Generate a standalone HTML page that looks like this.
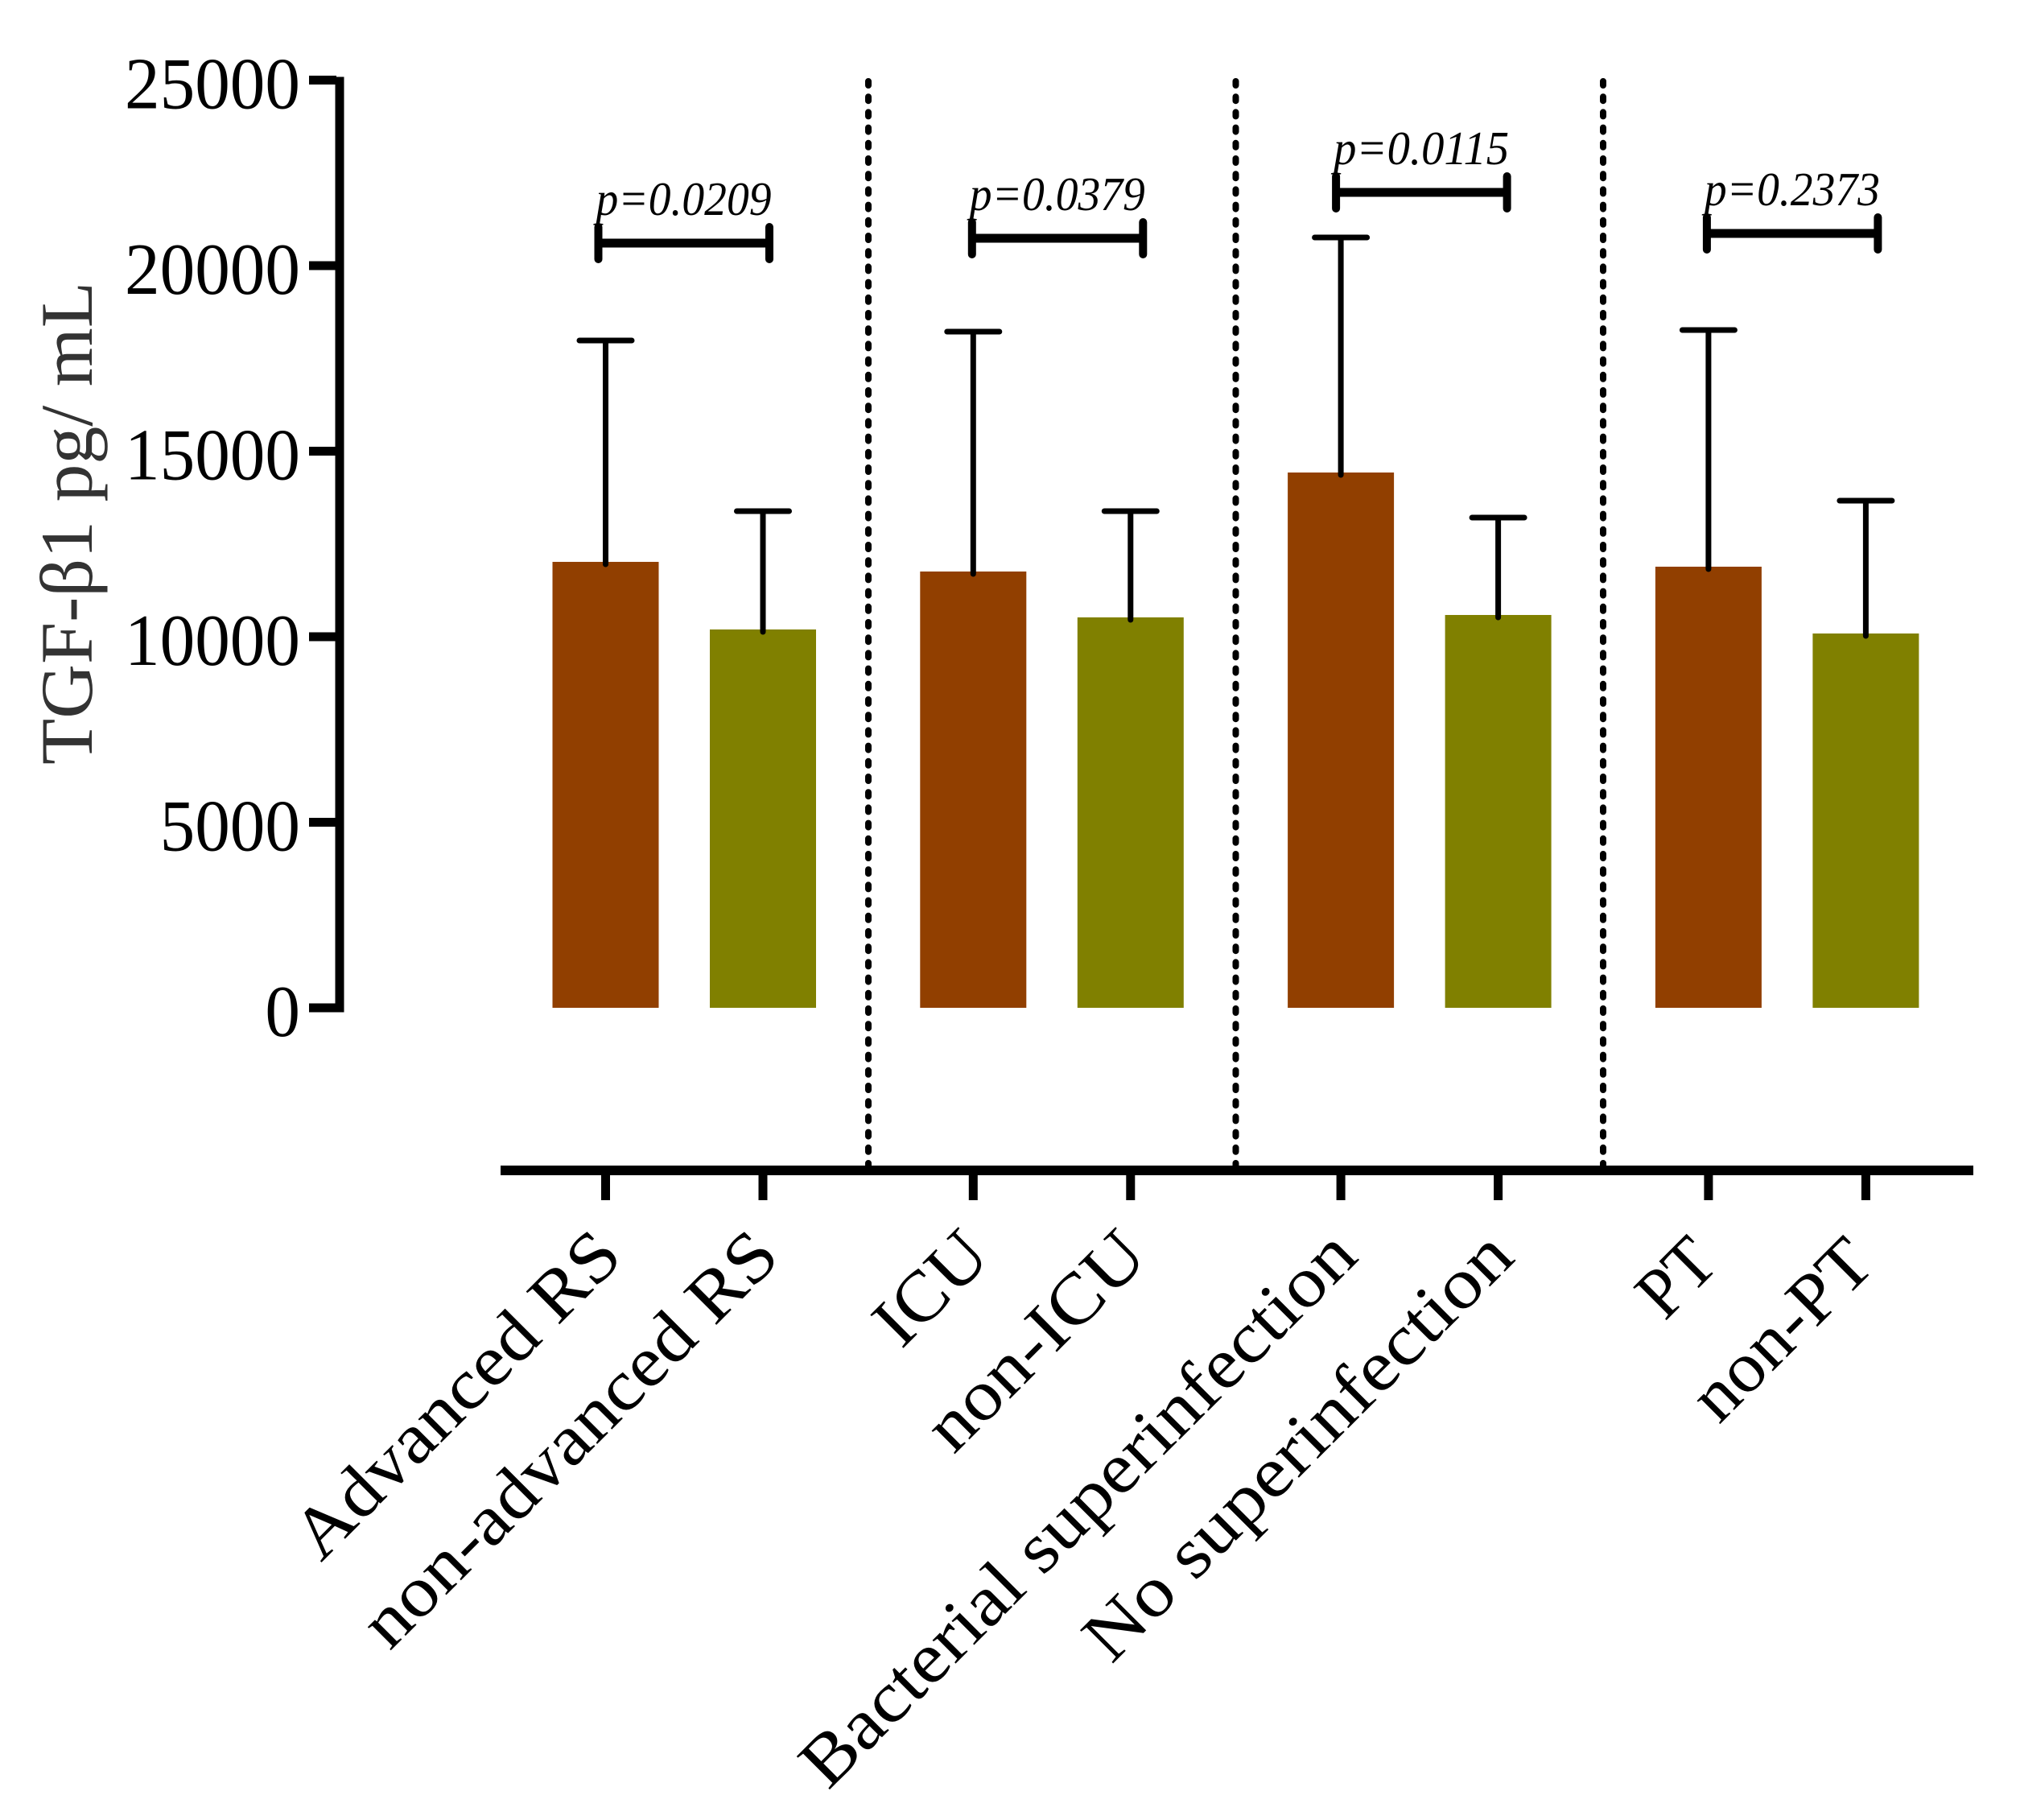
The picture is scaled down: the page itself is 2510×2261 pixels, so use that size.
<!DOCTYPE html>
<html>
<head>
<meta charset="utf-8">
<title>TGF-β1 bar chart</title>
<style>
html,body{margin:0;padding:0;background:#fff;}
svg{display:block;}
text{font-family:"Liberation Serif",serif;fill:#000;}
</style>
</head>
<body>
<svg id="chart" xmlns="http://www.w3.org/2000/svg" width="2510" height="2261" viewBox="0 0 2510 2261">
<rect x="0" y="0" width="2510" height="2261" fill="#fff"/>
<text transform="translate(114,950) rotate(-90)" font-size="92" textLength="600" lengthAdjust="spacingAndGlyphs" style="fill:#333">TGF-β1 pg/ mL</text>
<rect x="416.5" y="95.5" width="11" height="1162" fill="#000"/>
<rect x="622" y="1448" width="1830" height="12" fill="#000"/>
</svg>
<script>
const categories = ["Advanced RS","non-advanced RS","ICU","non-ICU","Bacterial superinfection","No superinfection","PT","non-PT"];
const meanValues = [12017,10195,11757,10521,14425,10586,11887,10087];
const upperValues = [17983,13384,18221,13384,20759,13210,18265,13666];
const yTickValues = [0,5000,10000,15000,20000,25000];
const bracketValues = [20607,20738,21974,20868];
const pLabels = ["p=0.0209","p=0.0379","p=0.0115","p=0.2373"];

const svg = document.getElementById('chart');
const NS = 'http://www.w3.org/2000/svg';
function add(tag, attrs, txt){
  const el = document.createElementNS(NS, tag);
  for (const k in attrs) el.setAttribute(k, attrs[k]);
  if (txt !== undefined) el.textContent = txt;
  svg.appendChild(el);
  return el;
}
const yScale = v => 1252 - v * 0.0461;
const xScale = i => 752.5 + Math.floor(i / 2) * 456.8 + (i % 2) * 195.5;
const dividerX = g => 1079 + g * 456.5;
const barColors = ['#913f00', '#808000'];
const barW = 132, capHalf = 32.5;

// y ticks
yTickValues.forEach(v => {
  const t = add('rect', {x: 384, y: yScale(v) - 5.5, width: 34, height: 11, fill: '#000'});
  
  
  const s = String(v);
  const l = add('text', {x: 373, y: yScale(v) + 35, 'text-anchor': 'end', 'font-size': 91, textLength: s.length * 43.6, lengthAdjust: 'spacingAndGlyphs'}, s);
  
  
});

// dividers
[0, 1, 2].forEach(g => {
  const d = add('line', {x1: dividerX(g), x2: dividerX(g), y1: 101, y2: 1448, stroke: '#000', 'stroke-width': 8, 'stroke-linecap': 'round', 'stroke-dasharray': '5 14.2'});
  
  
});

// bars, whiskers, x ticks, labels
const labelLayout = {lengths: [534, 690, 160, 345, 935, 712, 98, 278], shift: [24, 24, 24, 24, 24, 23, 15, 14], sum: 1588};
categories.forEach((name, i) => {
  const cx = xScale(i), top = yScale(meanValues[i]), up = yScale(upperValues[i]);
  const b = add('rect', {x: cx - barW / 2, y: top, width: barW, height: yScale(0) - top, fill: barColors[i % 2]});
  
  
  const w = add('line', {x1: cx, x2: cx, y1: top + 3, y2: up, stroke: '#000', 'stroke-width': 7, 'stroke-linecap': 'round'});
  
  
  const c = add('line', {x1: cx - capHalf, x2: cx + capHalf, y1: up, y2: up, stroke: '#000', 'stroke-width': 7, 'stroke-linecap': 'round'});
  
  
  const t = add('rect', {x: cx - 5.5, y: 1460, width: 11, height: 31, fill: '#000'});
  
  
  const ex = cx + labelLayout.shift[i], ey = labelLayout.sum + cx - ex;
  const l = add('text', {transform: 'translate(' + ex + ',' + ey + ') rotate(-45)', 'text-anchor': 'end', 'font-size': 89, textLength: labelLayout.lengths[i], lengthAdjust: 'spacingAndGlyphs'}, name);
  
  
});

// significance brackets
const bracketLeftShift = [-9, -1.5, -6, -2];
pLabels.forEach((p, g) => {
  const left = xScale(g * 2) + bracketLeftShift[g], right = left + 212.5, y = yScale(bracketValues[g]);
  const h = add('line', {x1: left, x2: right, y1: y, y2: y, stroke: '#000', 'stroke-width': 11});
  
  
  [left, right].forEach(x => {
    const v = add('line', {x1: x, x2: x, y1: y - 20, y2: y + 20, stroke: '#000', 'stroke-width': 10, 'stroke-linecap': 'round'});
    
    
  });
  const t = add('text', {x: left - 3, y: y - 35, 'font-size': 59, 'font-style': 'italic', textLength: 218, lengthAdjust: 'spacingAndGlyphs'}, p);
  
  
});
</script>
</body>
</html>
